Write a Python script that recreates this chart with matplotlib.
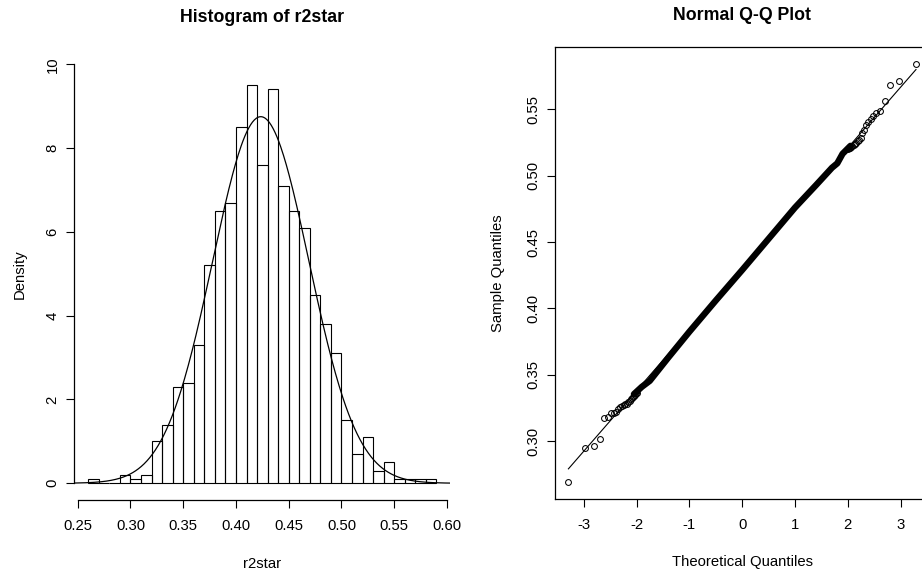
import matplotlib
matplotlib.use('Agg')
import numpy as np
import matplotlib.pyplot as plt
from statistics import NormalDist

plt.rcParams['font.family'] = ['Liberation Sans', 'DejaVu Sans']

# histogram of r2star (density scale, bin width 0.01, n = 1000)
bin_edges = [0.26, 0.27, 0.28, 0.29, 0.30, 0.31, 0.32, 0.33, 0.34, 0.35, 0.36,
             0.37, 0.38, 0.39, 0.40, 0.41, 0.42, 0.43, 0.44, 0.45, 0.46, 0.47,
             0.48, 0.49, 0.50, 0.51, 0.52, 0.53, 0.54, 0.55, 0.56, 0.57, 0.58, 0.59]
density = [0.1, 0.0, 0.0, 0.2, 0.1, 0.2, 1.0, 1.4, 2.3, 2.4, 3.3, 5.2, 6.5, 6.7,
           8.5, 9.5, 7.6, 9.4, 7.1, 6.5, 6.1, 4.5, 3.8, 3.1, 1.5, 0.7, 1.1, 0.3,
           0.5, 0.1, 0.1, 0.1, 0.1]
fit_mean = 0.4235
fit_sd = 0.0456
hist_xticks = [0.25, 0.30, 0.35, 0.40, 0.45, 0.50, 0.55, 0.60]
hist_yticks = [0, 2, 4, 6, 8, 10]

# normal Q-Q plot
n_sample = 1000
lower_tail = [0.2691, 0.2952, 0.2967, 0.3015, 0.3176, 0.3180, 0.3210, 0.3215,
              0.3222, 0.3245, 0.3258, 0.3265, 0.3272, 0.3278, 0.3283, 0.3292,
              0.3305, 0.3318, 0.3328, 0.3335, 0.3342, 0.3352, 0.3360, 0.3366]
upper_tail = [0.5200, 0.5205, 0.5210, 0.5215, 0.5222, 0.5230, 0.5240, 0.5250,
              0.5262, 0.5272, 0.5285, 0.5318, 0.5345, 0.5385, 0.5405, 0.5425,
              0.5450, 0.5470, 0.5490, 0.5565, 0.5685, 0.5713, 0.5841]
# dense middle of the Q-Q cloud (overlapping points), read as a band
band_theo = [-2.05, -1.9, -1.75, -1.6, -1.4, -1.0, -0.5, 0.0, 0.5, 1.0, 1.4, 1.7, 1.8, 1.9, 2.05]
band_vals = [0.3355, 0.3410, 0.3455, 0.3530, 0.3630, 0.3825, 0.4060, 0.4290,
             0.4525, 0.4760, 0.4930, 0.5060, 0.5093, 0.5165, 0.5225]
qq_intercept = 0.4296
qq_slope = 0.0457
qq_xticks = [-3, -2, -1, 0, 1, 2, 3]
qq_yticks = [0.30, 0.35, 0.40, 0.45, 0.50, 0.55]

base_fs = 10.7
title_fs = 12.8

fig = plt.figure(figsize=(9.22, 5.77), dpi=100)

# ---- histogram ----
ax1 = fig.add_axes([74.3 / 922, 1 - 500 / 577, (450.4 - 74.3) / 922, (500 - 47.5) / 577])
ax1.bar(bin_edges[:-1], density, width=np.diff(bin_edges), align='edge',
        fill=False, edgecolor='black', linewidth=0.8)
ax1.set_xlim(0.2468, 0.6032)
ax1.set_ylim(-0.4, 10.4)
xs = np.linspace(0.2468, 0.6032, 400)
ax1.plot(xs, np.exp(-0.5 * ((xs - fit_mean) / fit_sd) ** 2) / (fit_sd * np.sqrt(2 * np.pi)),
         color='black', lw=0.9)
ax1.spines[['top', 'right']].set_visible(False)
ax1.spines['left'].set_bounds(0, 10)
ax1.spines['bottom'].set_bounds(0.25, 0.60)
ax1.set_xticks(hist_xticks)
ax1.set_xticklabels(['%.2f' % t for t in hist_xticks])
ax1.set_yticks(hist_yticks)
ax1.set_yticklabels([str(t) for t in hist_yticks], rotation=90, va='center')
ax1.text(0.5, 1 + 30 / 452.5, 'Histogram of r2star', transform=ax1.transAxes,
         ha='center', va='center', fontsize=title_fs, fontweight='bold')
ax1.set_xlabel('r2star', fontsize=base_fs)
ax1.xaxis.set_label_coords(0.5, -63.5 / 452.5)
ax1.xaxis.label.set_va('center')
ax1.set_ylabel('Density', fontsize=base_fs)
ax1.yaxis.set_label_coords(-54.3 / 376.1, 0.5)
ax1.yaxis.label.set_va('center')

# ---- Q-Q plot ----
ax2 = fig.add_axes([554.7 / 922, 1 - 499.3 / 577, (929.7 - 554.7) / 922, (499.3 - 47.3) / 577])
nd = NormalDist()
lo_theo = [nd.inv_cdf((i - 0.5) / n_sample) for i in range(1, len(lower_tail) + 1)]
hi_theo = [nd.inv_cdf((i - 0.5) / n_sample)
           for i in range(n_sample - len(upper_tail) + 1, n_sample + 1)]
ax2.plot(band_theo, band_vals, color='black', lw=4.6, solid_capstyle='round',
         solid_joinstyle='round')
ax2.plot(lo_theo + hi_theo, lower_tail + upper_tail, linestyle='none', marker='o',
         markersize=4.2, markerfacecolor='none', markeredgecolor='black',
         markeredgewidth=0.75)
line_x = np.array([lo_theo[0], hi_theo[-1]])
ax2.plot(line_x, qq_intercept + qq_slope * line_x, color='black', lw=0.8)
ax2.set_xlim(-3.55, 3.55)
ax2.set_ylim(0.2563, 0.5967)
ax2.set_xticks(qq_xticks)
ax2.set_xticklabels([str(t) for t in qq_xticks])
ax2.set_yticks(qq_yticks)
ax2.set_yticklabels(['%.2f' % t for t in qq_yticks], rotation=90, va='center')
for sp in ax2.spines.values():
    sp.set_linewidth(0.9)
ax2.text(0.5, 1 + 32 / 452, 'Normal Q-Q Plot', transform=ax2.transAxes,
         ha='center', va='center', fontsize=title_fs, fontweight='bold')
ax2.set_xlabel('Theoretical Quantiles', fontsize=base_fs)
ax2.xaxis.set_label_coords(0.5, -62.5 / 452)
ax2.xaxis.label.set_va('center')
ax2.set_ylabel('Sample Quantiles', fontsize=base_fs)
ax2.yaxis.set_label_coords(-56.7 / 375, 0.5)
ax2.yaxis.label.set_va('center')

for ax in (ax1, ax2):
    ax.tick_params(direction='out', length=6, width=0.8, labelsize=base_fs, color='black')
    ax.tick_params(axis='x', pad=7.5)
    ax.tick_params(axis='y', pad=4.5)
    ax.spines['left'].set_linewidth(0.9)
    ax.spines['bottom'].set_linewidth(0.9)

fig.savefig('out.png', dpi=100)
